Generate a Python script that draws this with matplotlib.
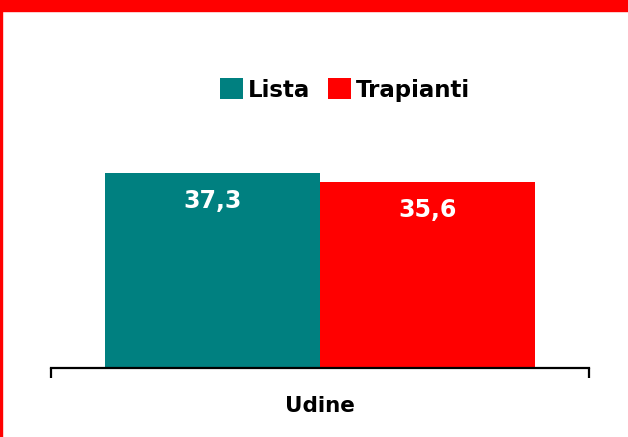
import matplotlib.pyplot as plt
from matplotlib.patches import Rectangle

# Data
category = ['Udine']
series = ['Lista', 'Trapianti']
values = [37.3, 35.6]
labels = ['37,3', '35,6']
colors = ['#008080', '#FF0000']

plt.rcParams['font.family'] = 'DejaVu Sans'
plt.rcParams['font.weight'] = 'bold'

fig = plt.figure(figsize=(6.28, 4.37), dpi=100)
ax = fig.add_axes([51 / 628, 69 / 437, 538 / 628, 209 / 437])

width = 0.4
offsets = [-0.2, 0.2]
for name, val, lab, col, off in zip(series, values, labels, colors, offsets):
    ax.bar(off, val, width=width, color=col, label=name, linewidth=0)
    ax.annotate(lab, (off, val), xytext=(0, -20), textcoords='offset points',
                ha='center', va='center', color='white', fontsize=17,
                fontweight='bold')

ax.set_xlim(-0.5, 0.5)
ax.set_ylim(0, 40)

# category axis with boundary ticks, label in the middle
for s in ['top', 'right', 'left']:
    ax.spines[s].set_visible(False)
ax.spines['bottom'].set_linewidth(1.6)
ax.set_yticks([])
ax.set_xticks([-0.5, 0.5])
ax.set_xticklabels(['', ''])
ax.tick_params(axis='x', which='major', direction='out', length=7.5, width=1.6)
ax.set_xticks([0], minor=True)
ax.set_xticklabels(category, minor=True, fontsize=15.5, fontweight='bold')
ax.tick_params(axis='x', which='minor', length=0, pad=20)

fig.legend(loc='center', bbox_to_anchor=(345 / 628, 1 - 90 / 437), ncol=2,
           frameon=False, handlelength=1.0, handleheight=1.0,
           handletextpad=0.2, columnspacing=0.8, borderpad=0,
           prop={'weight': 'bold', 'size': 16.5})

# red frame pieces
fig.patches.append(Rectangle((0, 1 - 11 / 437), 1, 11 / 437,
                             transform=fig.transFigure, color='#FF0000'))
fig.patches.append(Rectangle((0, 0), 2 / 628, 1,
                             transform=fig.transFigure, color='#FF0000'))

fig.savefig('out.png', dpi=100)
